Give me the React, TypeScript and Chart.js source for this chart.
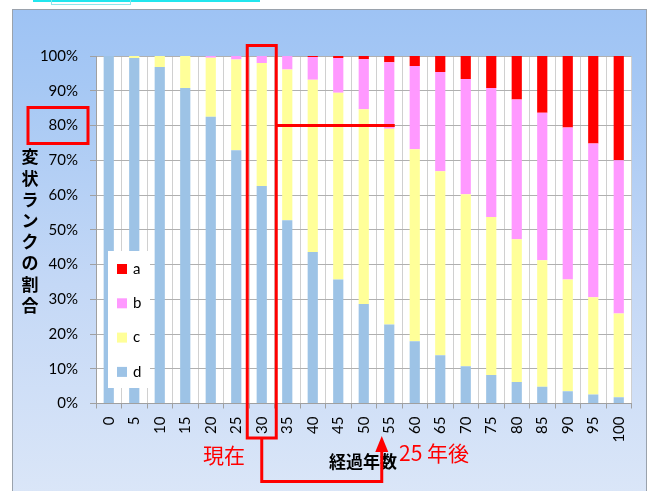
import React, { useEffect, useRef } from "react";
import { Chart, registerables } from "chart.js";

Chart.register(...registerables);

const categories = ["0", "5", "10", "15", "20", "25", "30", "35", "40", "45", "50", "55", "60", "65", "70", "75", "80", "85", "90", "95", "100"];
const seriesD = [100, 99.4, 96.8, 90.8, 82.5, 72.9, 62.6, 52.7, 43.6, 35.7, 28.6, 22.7, 17.9, 13.9, 10.7, 8.2, 6.2, 4.8, 3.5, 2.6, 1.8];
const seriesC = [0, 0.6, 3.2, 9.2, 17.0, 26.1, 35.4, 43.4, 49.6, 53.7, 56.1, 56.4, 55.3, 52.9, 49.5, 45.5, 41.1, 36.4, 32.2, 28.0, 24.1];
const seriesB = [0, 0, 0, 0, 0.5, 1.0, 2.0, 3.9, 6.5, 10.0, 14.4, 19.1, 23.9, 28.6, 33.2, 37.1, 40.2, 42.5, 43.7, 44.2, 44.1];
const seriesA = [0, 0, 0, 0, 0, 0, 0, 0, 0.3, 0.6, 0.9, 1.8, 2.9, 4.6, 6.6, 9.2, 12.5, 16.3, 20.6, 25.2, 30.0];

const seriesNames = ["d", "c", "b", "a"];
const seriesColors = ["#9DC3E6", "#FFFF99", "#FF99FF", "#FF0000"];

const yTitle = "変状ランクの割合";
const xTitle = "経過年数";
const currentLabel = "30";
const futureLabel = "55";
const levelValue = 80;
const currentText = "現在";
const futureText = "25 年後";

const TICK_FONT = "Lato, 'Liberation Sans', sans-serif";
const CJK_FONT = "'Noto Sans CJK JP', sans-serif";

const decorPlugin = {
  id: "decor",
  beforeDraw(chart: any) {
    const { ctx, chartArea } = chart;
    ctx.save();
    ctx.fillStyle = "#FFFFFF";
    ctx.fillRect(chartArea.left, chartArea.top, chartArea.right - chartArea.left, chartArea.bottom - chartArea.top);
    ctx.restore();
  },
  afterDatasetsDraw(chart: any) {
    const { ctx } = chart;
    const ds = chart.data.datasets;
    const boxL = 108, boxT = 251, boxW = 42, boxH = 137;
    ctx.save();
    ctx.fillStyle = "#FFFFFF";
    ctx.fillRect(boxL, boxT, boxW, boxH);
    ctx.font = "15px " + TICK_FONT;
    ctx.textBaseline = "middle";
    ctx.textAlign = "left";
    const n = ds.length;
    for (let i = 0; i < n; i++) {
      const d = ds[n - 1 - i];
      const cy = 269 + i * 34.3;
      ctx.fillStyle = d.backgroundColor;
      ctx.fillRect(117, cy - 5, 10, 10);
      ctx.fillStyle = "#000000";
      ctx.fillText(d.label, 133, cy);
    }
    ctx.restore();
  },
  afterDraw(chart: any) {
    const { ctx, chartArea, scales } = chart;
    const xs = scales.x;
    const ys = scales.y;
    const cur = xs.getPixelForValue(categories.indexOf(currentLabel));
    const fut = xs.getPixelForValue(categories.indexOf(futureLabel));
    const lvl = ys.getPixelForValue(levelValue);
    ctx.save();
    ctx.fillStyle = "#000000";
    ctx.font = "bold 17px " + CJK_FONT;
    ctx.textAlign = "center";
    ctx.textBaseline = "middle";
    const chars = Array.from(yTitle);
    chars.forEach((c, i) => ctx.fillText(c, 30, 157 + i * 21.2));
    ctx.font = "bold 17px " + CJK_FONT;
    ctx.fillText(xTitle, 363, 462);

    ctx.strokeStyle = "#FF0000";
    ctx.lineWidth = 3;
    ctx.lineJoin = "miter";
    ctx.strokeRect(28, lvl - 18, 60, 36);
    const boxTop = chartArea.top - 10.5;
    ctx.strokeRect(cur - 14.5, boxTop, 29, 438 - boxTop);
    ctx.beginPath();
    ctx.moveTo(cur + 14.5, lvl);
    ctx.lineTo(fut + 5.5, lvl);
    ctx.stroke();
    const ax = fut - 7.5;
    ctx.beginPath();
    ctx.moveTo(cur, 438);
    ctx.lineTo(cur, 481.5);
    ctx.lineTo(ax, 481.5);
    ctx.lineTo(ax, 450);
    ctx.stroke();
    ctx.fillStyle = "#FF0000";
    ctx.beginPath();
    ctx.moveTo(ax, 436);
    ctx.lineTo(ax - 6.5, 452);
    ctx.lineTo(ax + 6.5, 452);
    ctx.closePath();
    ctx.fill();
    ctx.font = "21px " + CJK_FONT;
    ctx.textAlign = "right";
    ctx.fillText(currentText, 245, 455);
    ctx.textAlign = "left";
    ctx.fillText(futureText, 399, 453);
    ctx.restore();
  },
};

export default function App() {
  const ref = useRef<HTMLCanvasElement>(null);
  useEffect(() => {
    if (!ref.current) return;
    const datasets = [seriesD, seriesC, seriesB, seriesA].map((data, i) => ({
      label: seriesNames[i],
      data,
      backgroundColor: seriesColors[i],
      borderWidth: 0,
      barPercentage: 0.4,
      categoryPercentage: 1.0,
    }));
    const chart = new Chart(ref.current, {
      type: "bar",
      data: { labels: categories, datasets },
      options: {
        responsive: false,
        animation: false,
        devicePixelRatio: 1,
        layout: { padding: { left: 0, right: 18.5, top: 56, bottom: 0 } },
        plugins: { legend: { display: false }, tooltip: { enabled: false } },
        scales: {
          x: {
            stacked: true,
            grid: { offset: true, color: "#D0D0D0", tickLength: 5, tickColor: "#A0A0A0" },
            border: { color: "#A0A0A0" },
            ticks: { maxRotation: 90, minRotation: 90, color: "#000000", font: { size: 15, family: TICK_FONT }, padding: 8 },
            afterFit: (s: any) => { s.height = 87.5; },
          },
          y: {
            stacked: true,
            min: 0,
            max: 100,
            ticks: { stepSize: 10, callback: (v: any) => v + "%", color: "#000000", font: { size: 15, family: TICK_FONT }, padding: 12 },
            grid: { color: "#B0B0B0", tickLength: 6, tickColor: "#A0A0A0" },
            border: { color: "#A0A0A0" },
            afterFit: (s: any) => { s.width = 96; },
          },
        },
      },
      plugins: [decorPlugin],
    });
    return () => chart.destroy();
  }, []);
  return (
    <div style={{ position: "absolute", left: 0, top: 0, width: 650, height: 491, overflow: "hidden", background: "#FFFFFF" }}>
      <div style={{ position: "absolute", left: 33, top: 0, width: 227, height: 2, background: "#22E6EE" }} />
      <div style={{ position: "absolute", left: 51, top: 0, width: 78, height: 4, border: "1px solid #8FE6EA", borderTop: "none" }} />
      <div
        style={{
          position: "absolute",
          left: 12,
          top: 9,
          width: 633,
          height: 500,
          border: "1.5px solid #9AA2AC",
          background: "linear-gradient(180deg, #9EC3F4 0%, #A6C8F4 15%, #C4D8F6 55%, #DCE7F8 100%)",
        }}
      />
      <canvas ref={ref} width={650} height={491} style={{ position: "absolute", left: 0, top: 0, width: 650, height: 491 }} />
    </div>
  );
}
